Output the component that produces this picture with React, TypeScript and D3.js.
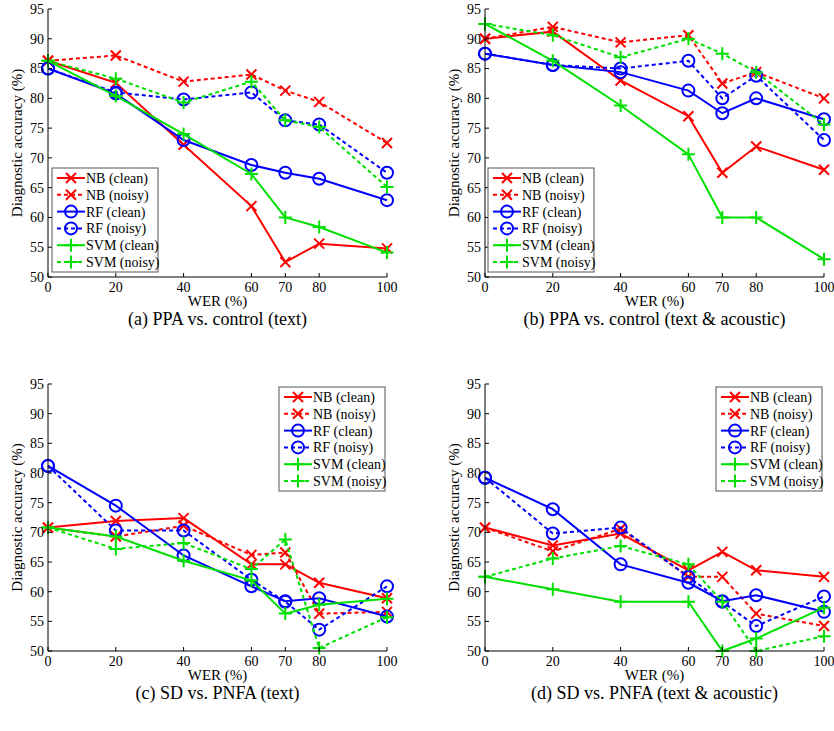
import * as d3 from "d3";

const wer = [0, 20, 40, 60, 70, 80, 100];
const yTicks = [50, 55, 60, 65, 70, 75, 80, 85, 90, 95];
const seriesNames = ["NB (clean)", "NB (noisy)", "RF (clean)", "RF (noisy)", "SVM (clean)", "SVM (noisy)"];
const captions = [
  "(a) PPA vs. control (text)",
  "(b) PPA vs. control (text & acoustic)",
  "(c) SD vs. PNFA (text)",
  "(d) SD vs. PNFA (text & acoustic)",
];

const panelA = [
  [86.3, 82.6, 72.2, 61.9, 52.5, 55.6, 54.8],
  [86.3, 87.2, 82.8, 84.0, 81.3, 79.4, 72.5],
  [85.0, 80.8, 73.0, 68.8, 67.5, 66.5, 62.9],
  [85.0, 81.0, 79.8, 81.0, 76.3, 75.6, 67.5],
  [86.3, 80.4, 74.0, 67.3, 60.0, 58.4, 54.1],
  [86.3, 83.3, 79.3, 82.8, 76.3, 75.2, 65.1],
];
const panelB = [
  [90.0, 91.2, 83.0, 77.0, 67.5, 71.9, 68.0],
  [90.0, 92.0, 89.4, 90.6, 82.5, 84.4, 80.0],
  [87.5, 85.6, 84.4, 81.3, 77.5, 80.0, 76.5],
  [87.5, 85.6, 85.0, 86.3, 80.0, 83.8, 73.0],
  [92.5, 86.3, 78.8, 70.6, 60.0, 60.0, 53.0],
  [92.5, 90.6, 86.9, 90.0, 87.5, 84.4, 75.6],
];
const panelC = [
  [70.8, 71.9, 72.4, 64.6, 64.6, 61.5, 58.9],
  [70.8, 69.3, 71.1, 66.2, 66.6, 56.3, 56.6],
  [81.2, 74.5, 66.1, 60.9, 58.4, 58.9, 55.8],
  [81.2, 70.3, 70.3, 62.0, 58.3, 53.6, 60.9],
  [70.8, 69.3, 65.2, 61.9, 56.3, 57.8, 58.8],
  [70.8, 67.2, 68.2, 63.8, 68.8, 50.5, 55.7],
];
const panelD = [
  [70.8, 67.8, 69.8, 63.6, 66.7, 63.6, 62.5],
  [70.8, 66.8, 70.6, 62.5, 62.5, 56.3, 54.2],
  [79.2, 73.9, 64.6, 61.5, 58.4, 59.4, 56.6],
  [79.2, 69.8, 70.8, 62.5, 58.3, 54.2, 59.2],
  [62.5, 60.4, 58.3, 58.3, 50.0, 52.1, 57.3],
  [62.5, 65.6, 67.7, 64.6, 58.3, 50.0, 52.5],
];

const colors = ["#ff0000", "#ff0000", "#0000ff", "#0000ff", "#00e000", "#00e000"];
const markers = ["x", "x", "o", "o", "+", "+"];
const font = "'Liberation Serif', 'Times New Roman', serif";

function Marker({ kind, x, y, color }: { kind: string; x: number; y: number; color: string }) {
  if (kind === "o") return <circle cx={x} cy={y} r={6} fill="none" stroke={color} strokeWidth={2} />;
  const s = kind === "x" ? 5 : 6.5;
  const d =
    kind === "x"
      ? `M${x - s},${y - s}L${x + s},${y + s}M${x - s},${y + s}L${x + s},${y - s}`
      : `M${x - s},${y}L${x + s},${y}M${x},${y - s}L${x},${y + s}`;
  return <path d={d} stroke={color} strokeWidth={2} fill="none" />;
}

function Panel({
  data, x0, x1, yTop, yBot, legend, caption,
}: {
  data: number[][]; x0: number; x1: number; yTop: number; yBot: number;
  legend: { x: number; y: number }; caption: string;
}) {
  const x = d3.scaleLinear().domain([0, 100]).range([x0, x1]);
  const y = d3.scaleLinear().domain([50, 95]).range([yBot, yTop]);
  const line = d3.line<number>().x((_, i) => x(wer[i])).y((v) => y(v));
  const lw = 106, lh = 104, rowH = 16.8;
  return (
    <g style={{ fontFamily: font }}>
      {data.map((s, i) => (
        <g key={i}>
          <path d={line(s) ?? ""} fill="none" stroke={colors[i]} strokeWidth={2}
            strokeDasharray={i % 2 ? "4,3" : undefined} />
          {s.map((v, j) => <Marker key={j} kind={markers[i]} x={x(wer[j])} y={y(v)} color={colors[i]} />)}
        </g>
      ))}
      <line x1={x0} x2={x0} y1={yTop} y2={yBot} stroke="#000" />
      <line x1={x0} x2={x1} y1={yBot} y2={yBot} stroke="#000" />
      {yTicks.map((t) => (
        <g key={t}>
          <line x1={x0} x2={x0 + 4} y1={y(t)} y2={y(t)} stroke="#000" />
          <text x={x0 - 4} y={y(t)} dy="0.35em" textAnchor="end" fontSize={14}>{t}</text>
        </g>
      ))}
      {wer.map((t) => (
        <g key={t}>
          <line x1={x(t)} x2={x(t)} y1={yBot} y2={yBot - 4} stroke="#000" />
          <text x={x(t)} y={yBot + 15} textAnchor="middle" fontSize={14}>{t}</text>
        </g>
      ))}
      <text x={(x0 + x1) / 2} y={yBot + 29} textAnchor="middle" fontSize={15}>WER (%)</text>
      <text transform={`translate(${x0 - 26},${(yTop + yBot) / 2}) rotate(-90)`} textAnchor="middle" fontSize={15}>
        Diagnostic accuracy (%)
      </text>
      <text x={(x0 + x1) / 2} y={yBot + 48} textAnchor="middle" fontSize={18}>{caption}</text>
      <rect x={legend.x} y={legend.y} width={lw} height={lh} fill="#fff" stroke="#555" />
      {seriesNames.map((n, i) => {
        const ly = legend.y + 10 + i * rowH;
        return (
          <g key={n}>
            <line x1={legend.x + 5} x2={legend.x + 33} y1={ly} y2={ly} stroke={colors[i]} strokeWidth={2}
              strokeDasharray={i % 2 ? "4,3" : undefined} />
            <Marker kind={markers[i]} x={legend.x + 19} y={ly} color={colors[i]} />
            <text x={legend.x + 34} y={ly} dy="0.35em" fontSize={14}>{n}</text>
          </g>
        );
      })}
    </g>
  );
}

export default function App() {
  return (
    <svg width={834} height={731} style={{ position: "absolute", left: 0, top: 0, background: "#fff" }}>
      <rect width={834} height={731} fill="#fff" />
      <Panel data={panelA} x0={48} x1={387} yTop={9} yBot={277} legend={{ x: 52, y: 168 }} caption={captions[0]} />
      <Panel data={panelB} x0={485} x1={824} yTop={9} yBot={277} legend={{ x: 488, y: 168 }} caption={captions[1]} />
      <Panel data={panelC} x0={48} x1={387} yTop={384} yBot={651} legend={{ x: 279, y: 387 }} caption={captions[2]} />
      <Panel data={panelD} x0={485} x1={824} yTop={384} yBot={651} legend={{ x: 716, y: 387 }} caption={captions[3]} />
    </svg>
  );
}
